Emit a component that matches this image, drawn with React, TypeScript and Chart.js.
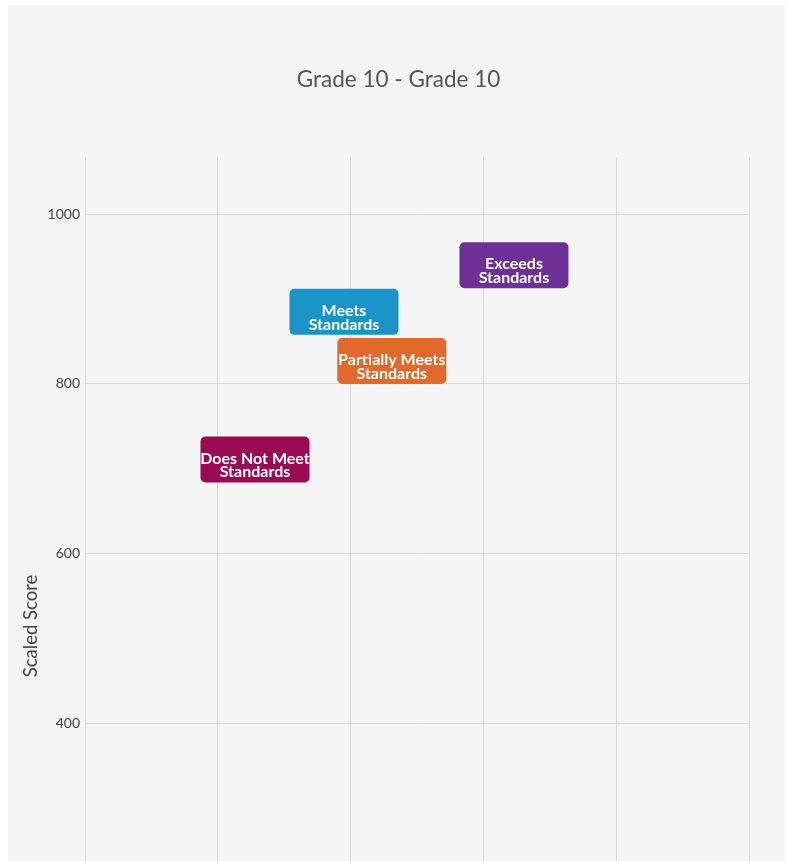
import React, { useEffect, useRef } from "react";
import { Chart, registerables } from "chart.js";

Chart.register(...registerables);

const chartTitle = "Grade 10 - Grade 10";
const yAxisTitle = "Scaled Score";
const categories = [
  ["Does Not Meet", "Standards"],
  ["Partially Meets", "Standards"],
  ["Meets", "Standards"],
  ["Exceeds", "Standards"],
];
const xPositions = [1.28, 2.31, 1.95, 3.23];
const scores = [711, 827, 885, 940];
const colors = ["#9a0a52", "#e0692c", "#1a93c9", "#6c3096"];
const yTicks = [400, 600, 800, 1000];
const yMin = -38;
const yMax = 1067.5;
const xMin = 0;
const xMax = 5;

const FONT = "Lato, 'Open Sans', sans-serif";

const titlePlugin = {
  id: "centeredTitle",
  afterDraw(chart: any) {
    const ctx = chart.ctx;
    ctx.save();
    ctx.fillStyle = "#555555";
    ctx.font = `normal 22.5px ${FONT}`;
    ctx.textAlign = "center";
    ctx.textBaseline = "middle";
    ctx.fillText(chartTitle, chart.width / 2 + 2, 75);
    ctx.restore();
  },
};

const labelBoxes = {
  id: "labelBoxes",
  afterDatasetsDraw(chart: any) {
    const ctx = chart.ctx;
    chart.data.datasets.forEach((ds: any, di: number) => {
      const meta = chart.getDatasetMeta(di);
      meta.data.forEach((pt: any, i: number) => {
        const w = 109;
        const h = 46;
        const x0 = pt.x - w / 2;
        const y0 = pt.y - h / 2;
        ctx.save();
        ctx.beginPath();
        ctx.roundRect(x0, y0, w, h, 5);
        ctx.fillStyle = ds.boxColors[i];
        ctx.fill();
        ctx.clip();
        ctx.fillStyle = "#ffffff";
        ctx.font = `bold 16px ${FONT}`;
        ctx.textAlign = "center";
        ctx.textBaseline = "middle";
        const lines = ds.lines[i];
        ctx.fillText(lines[0], pt.x, pt.y - 1);
        ctx.fillText(lines[1], pt.x, pt.y + 12.5);
        ctx.restore();
      });
    });
  },
};

export default function App() {
  const ref = useRef<HTMLCanvasElement>(null);
  useEffect(() => {
    const chart = new Chart(ref.current!, {
      type: "scatter",
      data: {
        datasets: [
          {
            data: xPositions.map((x, i) => ({ x, y: scores[i] })),
            pointRadius: 0,
            pointHoverRadius: 0,
            // @ts-ignore
            boxColors: colors,
            lines: categories,
          } as any,
        ],
      },
      options: {
        responsive: false,
        animation: false,
        events: [],
        layout: { padding: { left: 0, right: 36, top: 152, bottom: 20 } },
        plugins: {
          legend: { display: false },
          tooltip: { enabled: false },
          title: { display: false },
        },
        scales: {
          x: {
            type: "linear",
            min: xMin,
            max: xMax,
            ticks: { display: false, stepSize: 1 },
            grid: { color: "#d9d9d9", drawTicks: false },
            border: { display: false },
            afterFit: (s: any) => {
              s.height = 0;
            },
          },
          y: {
            type: "linear",
            min: yMin,
            max: yMax,
            afterBuildTicks: (s: any) => {
              s.ticks = yTicks.map((v) => ({ value: v }));
            },
            ticks: {
              color: "#444444",
              font: { family: FONT, size: 14 },
              padding: 5,
              callback: (v: any) => String(v),
            },
            grid: { color: "#d9d9d9", drawTicks: false },
            border: { display: true, color: "#d9d9d9" },
            title: {
              display: true,
              text: yAxisTitle,
              color: "#444444",
              font: { family: FONT, size: 18.5 },
              padding: { top: 12, bottom: 0 },
            },
            afterFit: (s: any) => {
              s.width = 77;
            },
          },
        },
      },
      plugins: [labelBoxes, titlePlugin],
    });
    return () => chart.destroy();
  }, []);
  return (
    <div
      style={{
        position: "absolute",
        left: 8,
        top: 5,
        width: 777,
        height: 856,
        overflow: "hidden",
        background: "#f5f5f5",
      }}
    >
      <canvas ref={ref} width={777} height={1110} style={{ display: "block" }} />
    </div>
  );
}
